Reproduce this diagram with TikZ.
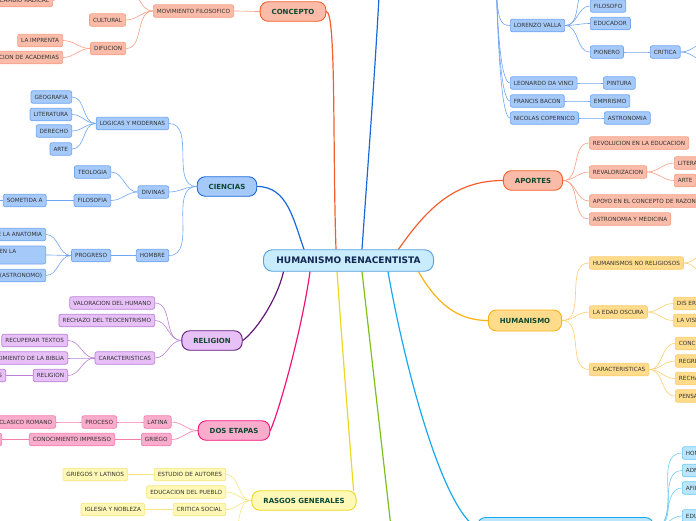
\documentclass[tikz,border=0pt]{standalone}
\usepackage{fontspec}
\setmainfont{DejaVu Sans}
\usetikzlibrary{backgrounds}
\definecolor{conF}{RGB}{250,188,168}
\definecolor{conD}{RGB}{242,95,45}
\definecolor{conS}{RGB}{246,158,132}
\definecolor{cieF}{RGB}{165,202,250}
\definecolor{cieD}{RGB}{25,105,220}
\definecolor{cieS}{RGB}{112,165,240}
\definecolor{relF}{RGB}{232,192,248}
\definecolor{relD}{RGB}{95,25,115}
\definecolor{relS}{RGB}{185,128,212}
\definecolor{dosF}{RGB}{250,172,205}
\definecolor{dosD}{RGB}{242,20,120}
\definecolor{dosS}{RGB}{245,125,175}
\definecolor{rasF}{RGB}{255,248,182}
\definecolor{rasD}{RGB}{236,216,30}
\definecolor{rasS}{RGB}{246,230,125}
\definecolor{humF}{RGB}{255,220,140}
\definecolor{humD}{RGB}{250,178,20}
\definecolor{humS}{RGB}{252,205,110}
\definecolor{cyaF}{RGB}{185,230,252}
\definecolor{cyaD}{RGB}{25,168,240}
\definecolor{cyaS}{RGB}{110,200,245}
\definecolor{cenF}{RGB}{200,236,252}
\definecolor{cenD}{RGB}{85,160,222}
\definecolor{cenT}{RGB}{18,38,82}
\definecolor{mainT}{RGB}{12,72,48}
\definecolor{subT}{RGB}{50,50,50}
\definecolor{verde}{RGB}{128,190,25}
\tikzset{
  sub/.style={draw, rounded corners=2pt, line width=0.7pt, inner xsep=3.6pt, inner ysep=0pt,
    minimum height=12.5pt, text=subT, font=\fontsize{5.7}{6.6}\selectfont},
  topic/.style={draw, rounded corners=8pt, line width=0.9pt, inner xsep=11.5pt, inner ysep=0pt,
    minimum height=19.5pt, text=mainT, font=\fontsize{7}{8}\selectfont\bfseries},
  centre/.style={draw=cenD, fill=cenF, rounded corners=9pt, line width=0.9pt, inner xsep=13pt,
    inner ysep=0pt, minimum height=21.5pt, text=cenT, font=\fontsize{9}{10}\selectfont\bfseries},
  conN/.style={sub, fill=conF, draw=conS},
  cieN/.style={sub, fill=cieF, draw=cieS},
  relN/.style={sub, fill=relF, draw=relS},
  dosN/.style={sub, fill=dosF, draw=dosS},
  rasN/.style={sub, fill=rasF, draw=rasS},
  humN/.style={sub, fill=humF, draw=humS},
  cyaN/.style={sub, fill=cyaF, draw=cyaS},
  lk/.style={line width=0.6pt, line cap=round},
  trunk/.style={line width=1.2pt, line cap=round},
}
\newcommand{\lfan}[3]{\foreach \kid in {#3}{\draw[lk,#1] (#2.west) to[out=180,in=0] (\kid.east);}}
\newcommand{\rfan}[3]{\foreach \kid in {#3}{\draw[lk,#1] (#2.east) to[out=0,in=180] (\kid.west);}}
\begin{document}
\begin{tikzpicture}[x=1pt,y=-1pt]
\useasboundingbox (0,0) rectangle (696,520);
\clip (0,0) rectangle (696,520);
% centre and topics
\node[centre] (centro) at (348.5,260.5) {HUMANISMO RENACENTISTA};
\node[topic,fill=conF,draw=conD] (concepto) at (293,11.5) {CONCEPTO};
\node[topic,fill=cieF,draw=cieD] (ciencias) at (227,186.5) {CIENCIAS};
\node[topic,fill=relF,draw=relD] (religion) at (212,340.5) {RELIGION};
\node[topic,fill=dosF,draw=dosD] (dosetapas) at (234,430.5) {DOS ETAPAS};
\node[topic,fill=rasF,draw=rasD] (rasgos) at (304,500.5) {RASGOS GENERALES};
\node[topic,fill=conF,draw=conD] (aportes) at (533,180.5) {APORTES};
\node[topic,fill=humF,draw=humD,minimum height=21pt] (humanismo) at (525,320.5) {HUMANISMO};
\node[topic,fill=cyaF,draw=cyaD,minimum width=176pt,minimum height=21pt] (cyanbox) at (565.5,528) {};
\coordinate (arriba) at (381,-40);
\coordinate (arribader) at (496,-20);
\coordinate (verdefin) at (393,545);
% concepto
\node[conN,anchor=east] (movfil) at (234,11) {MOVIMIENTO FILOSOFICO};
\node[conN,anchor=east] (cultural) at (126,20) {CULTURAL};
\node[conN,anchor=east] (difucion) at (126,48.5) {DIFUCION};
\node[conN,anchor=east] (imprenta) at (63,40.5) {LA IMPRENTA};
\node[conN,anchor=east] (academias) at (63,57.5) {FUNDACION DE ACADEMIAS};
\node[conN,anchor=east] (cambio) at (53,0.5) {CAMBIO RADICAL};
\coordinate (movarriba) at (124,-14);
\coordinate (cambioder) at (66,-14);
% ciencias
\node[cieN,anchor=east] (logicas) at (169,123.5) {LOGICAS Y MODERNAS};
\node[cieN,anchor=east] (geografia) at (72,97) {GEOGRAFIA};
\node[cieN,anchor=east] (literatura) at (72,114.5) {LITERATURA};
\node[cieN,anchor=east] (derecho) at (72,131) {DERECHO};
\node[cieN,anchor=east] (arte) at (72,149) {ARTE};
\node[cieN,anchor=east] (divinas) at (169,192) {DIVINAS};
\node[cieN,anchor=east] (teologia) at (111,172) {TEOLOGIA};
\node[cieN,anchor=east] (filosofia) at (111,200.5) {FILOSOFIA};
\node[cieN,anchor=east] (sometida) at (46.5,200.5) {SOMETIDA A};
\coordinate (sometidaizq) at (-12,200.5);
\node[cieN,anchor=east] (hombre) at (169,255.5) {HOMBRE};
\node[cieN,anchor=east] (progreso) at (111,255.5) {PROGRESO};
\node[cieN,anchor=east] (anatomia) at (46,234.5) {ESTUDIO DE LA ANATOMIA};
\node[cieN,anchor=east,align=left,text width=100pt,minimum height=18pt] (enla) at (46,255) {DESCUBRIMIENTOS EN LA\\MEDICINA};
\node[cieN,anchor=east] (astronomo) at (46,275.5) {COPERNICO (ASTRONOMO)};
% religion
\node[relN,anchor=east] (valoracion) at (155,303) {VALORACION DEL HUMANO};
\node[relN,anchor=east] (rechazo) at (155,320.5) {RECHAZO DEL TEOCENTRISMO};
\node[relN,anchor=east] (caract) at (155,358) {CARACTERISTICAS};
\node[relN,anchor=east] (recuperar) at (68,340.5) {RECUPERAR TEXTOS};
\node[relN,anchor=east] (biblia) at (68,358) {CONOCIMIENTO DE LA BIBLIA};
\node[relN,anchor=east] (relig) at (68,375.5) {RELIGION};
\node[relN,anchor=east] (relpart) at (6,375.5) {OTRAS RELIGIONES};
% dos etapas
\node[dosN,anchor=east] (latina) at (171.5,422) {LATINA};
\node[dosN,anchor=east] (griego) at (171.5,439.5) {GRIEGO};
\node[dosN,anchor=east] (proceso) at (117,422) {PROCESO};
\node[dosN,anchor=east] (romano) at (56,422) {MUNDO CLASICO ROMANO};
\node[dosN,anchor=east] (impresiso) at (115,439.5) {CONOCIMIENTO IMPRESISO};
\node[dosN,anchor=east] (dospart) at (2,439.5) {TEXTOS ANTIGUOS};
% rasgos generales
\node[rasN,anchor=east] (autores) at (226,474.5) {ESTUDIO DE AUTORES};
\node[rasN,anchor=east] (griegos) at (128,474.5) {GRIEGOS Y LATINOS};
\node[rasN,anchor=east] (educpueblo) at (226,492) {EDUCACION DEL PUEBLO};
\node[rasN,anchor=east] (critsoc) at (226,509.5) {CRITICA SOCIAL};
\node[rasN,anchor=east] (iglesia) at (145,509.5) {IGLESIA Y NOBLEZA};
\coordinate (rasabajo) at (226,540);
% aportes
\node[conN,anchor=west] (revolucion) at (589,143) {REVOLUCION EN LA EDUCACION};
\node[conN,anchor=west] (revalor) at (589,172) {REVALORIZACION};
\node[conN,anchor=west] (litera) at (674,163) {LITERATURA};
\node[conN,anchor=west] (artear) at (674,180.5) {ARTE};
\node[conN,anchor=west] (apoyo) at (589,201) {APOYO EN EL CONCEPTO DE RAZON};
\node[conN,anchor=west] (astromed) at (589,219) {ASTRONOMIA Y MEDICINA};
% humanismo
\node[humN,anchor=west] (noreli) at (589,263) {HUMANISMOS NO RELIGIOSOS};
\coordinate (noreli1) at (712,250);
\coordinate (noreli2) at (712,278);
\node[humN,anchor=west] (edad) at (589,312) {LA EDAD OSCURA};
\node[humN,anchor=west] (diser) at (673,303.5) {DIS ERUDITOS};
\node[humN,anchor=west] (lavis) at (673,320.5) {LA VISION MEDIEVAL};
\node[humN,anchor=west] (caracth) at (589,369.5) {CARACTERISTICAS};
\node[humN,anchor=west] (conc) at (675,343.5) {CONCEPCION DEL HOMBRE};
\node[humN,anchor=west] (regr) at (675,361) {REGRESO A LOS CLASICOS};
\node[humN,anchor=west] (recha) at (675,378.5) {RECHAZO A LA ESCOLASTICA};
\node[humN,anchor=west] (pensa) at (675,396) {PENSAMIENTO CRITICO};
% abajo
\node[cyaN,anchor=west] (ho) at (682,453) {HOMBRE COMO CENTRO};
\node[cyaN,anchor=west] (adm) at (682,470.5) {ADMIRACION POR LO CLASICO};
\node[cyaN,anchor=west] (afi) at (682,488) {AFIRMACION DEL INDIVIDUO};
\node[cyaN,anchor=west] (edu) at (682,516) {EDUCACION};
% arriba
\node[cieN,anchor=west] (lorenzo) at (510,25.5) {LORENZO VALLA};
\node[cieN,anchor=west] (filosofo) at (590,6) {FILOSOFO};
\node[cieN,anchor=west] (educador) at (590,23.5) {EDUCADOR};
\node[cieN,anchor=west] (pionero) at (590,52) {PIONERO};
\node[cieN,anchor=west] (critica) at (650,52) {CRITICA};
\coordinate (lorarriba) at (590,-14);
\coordinate (critica1) at (712,40);
\coordinate (critica2) at (712,64);
\node[cieN,anchor=west] (leonardo) at (510,83) {LEONARDO DA VINCI};
\node[cieN,anchor=west] (pintura) at (603,83) {PINTURA};
\node[cieN,anchor=west] (bacon) at (510,101) {FRANCIS BACON};
\node[cieN,anchor=west] (empirismo) at (590,101) {EMPIRISMO};
\node[cieN,anchor=west] (copernico) at (510,118) {NICOLAS COPERNICO};
\node[cieN,anchor=west] (astronomia) at (604,118) {ASTRONOMIA};

\begin{pgfonlayer}{background}
\clip (0,0) rectangle (696,520);
\draw[trunk,conD] ([xshift=-12.5pt]centro.north) to[out=92,in=0,out distance=100pt,in distance=10pt] (concepto.east);
\draw[trunk,cieD] ([xshift=-44.5pt]centro.north) to[out=110,in=0] (ciencias.east);
\draw[trunk,cieD] ([xshift=13.5pt]centro.north) to[out=86,in=-93] (arriba);
\draw[trunk,conD] ([xshift=50pt]centro.north) to[out=55,in=180] (aportes.west);
\draw[trunk,relD] ([xshift=-65pt]centro.south) to[out=-103,in=35,out distance=30pt,in distance=15pt] (religion.east);
\draw[trunk,dosD] ([xshift=-38.5pt]centro.south) to[out=-98,in=65,out distance=60pt,in distance=20pt] (dosetapas.east);
\draw[trunk,rasD] ([xshift=-11.5pt]centro.south) to[out=-86,in=95,out distance=80pt,in distance=10pt] ([xshift=-3pt]rasgos.north east);
\draw[trunk,verde] ([xshift=13.5pt]centro.south) -- (verdefin);
\draw[trunk,cyaD] ([xshift=39.5pt]centro.south) to[out=-80,in=150,out distance=100pt,in distance=40pt] (cyanbox.west);
\draw[trunk,humD] ([xshift=70pt]centro.south) to[out=-60,in=180] (humanismo.west);
% concepto
\lfan{conS}{concepto}{movfil}
\lfan{conS}{movfil}{cultural,difucion}
\draw[lk,conS] (movfil.west) to[out=180,in=0] (movarriba);
\draw[lk,conS] (cambioder) to[out=180,in=0] (cambio.east);
\lfan{conS}{difucion}{imprenta,academias}
% ciencias
\lfan{cieS}{ciencias}{logicas,divinas,hombre}
\lfan{cieS}{logicas}{geografia,literatura,derecho,arte}
\lfan{cieS}{divinas}{teologia,filosofia}
\lfan{cieS}{filosofia}{sometida}
\draw[lk,cieS] (sometida.west) -- (sometidaizq);
\lfan{cieS}{hombre}{progreso}
\lfan{cieS}{progreso}{anatomia,enla,astronomo}
% religion
\lfan{relS}{religion}{valoracion,rechazo,caract}
\lfan{relS}{caract}{recuperar,biblia,relig}
\lfan{relS}{relig}{relpart}
% dos etapas
\lfan{dosS}{dosetapas}{latina,griego}
\lfan{dosS}{latina}{proceso}
\lfan{dosS}{proceso}{romano}
\lfan{dosS}{griego}{impresiso}
\lfan{dosS}{impresiso}{dospart}
% rasgos
\lfan{rasS}{rasgos}{autores,educpueblo,critsoc}
\draw[lk,rasS] (rasgos.west) to[out=180,in=0] (rasabajo);
\lfan{rasS}{autores}{griegos}
\lfan{rasS}{critsoc}{iglesia}
% aportes
\rfan{conS}{aportes}{revolucion,revalor,apoyo,astromed}
\rfan{conS}{revalor}{litera,artear}
% humanismo
\rfan{humS}{humanismo}{noreli,edad,caracth}
\draw[lk,humS] (noreli.east) to[out=0,in=180] (noreli1);
\draw[lk,humS] (noreli.east) to[out=0,in=180] (noreli2);
\rfan{humS}{edad}{diser,lavis}
\rfan{humS}{caracth}{conc,regr,recha,pensa}
\rfan{cyaS}{cyanbox}{ho,adm,afi,edu}
% arriba
\foreach \kid in {lorenzo,leonardo,bacon,copernico}{
  \draw[lk,cieS] (arribader) to[out=-88,in=180,out distance=40pt,in distance=10pt] (\kid.west);}
\rfan{cieS}{lorenzo}{filosofo,educador,pionero}
\draw[lk,cieS] (lorenzo.east) to[out=0,in=180] (lorarriba);
\rfan{cieS}{pionero}{critica}
\draw[lk,cieS] (critica.east) to[out=0,in=180] (critica1);
\draw[lk,cieS] (critica.east) to[out=0,in=180] (critica2);
\rfan{cieS}{leonardo}{pintura}
\rfan{cieS}{bacon}{empirismo}
\rfan{cieS}{copernico}{astronomia}
\end{pgfonlayer}
\end{tikzpicture}
\end{document}
